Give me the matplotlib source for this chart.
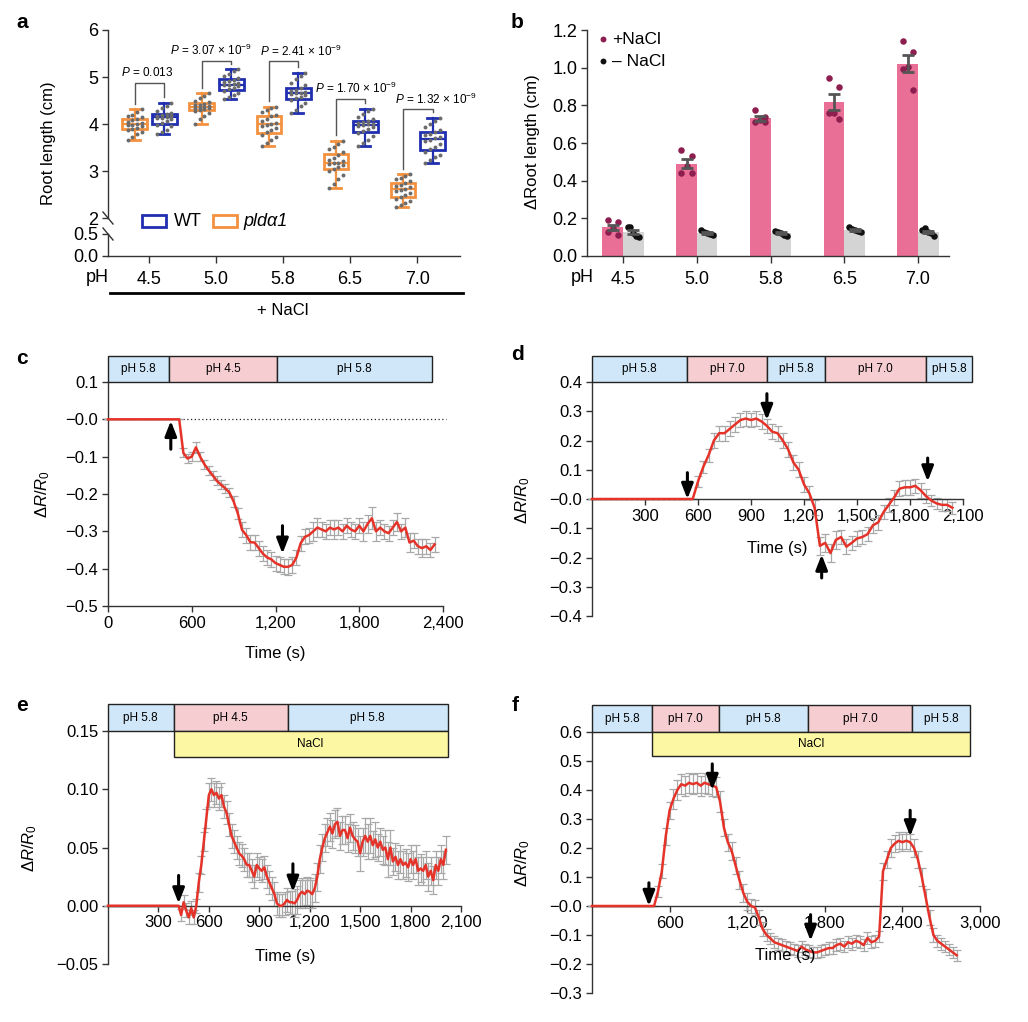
import numpy as np
import matplotlib
matplotlib.use('Agg')
import matplotlib.pyplot as plt
from matplotlib.patches import Rectangle
from matplotlib.lines import Line2D

plt.rcParams['font.family'] = ['Liberation Sans', 'DejaVu Sans']
plt.rcParams['mathtext.fontset'] = 'custom'
plt.rcParams['mathtext.rm'] = 'Liberation Sans'
plt.rcParams['mathtext.it'] = 'Liberation Sans:italic'
plt.rcParams['mathtext.bf'] = 'Liberation Sans:bold'

# ---------------- data ----------------
ph_labels = ['4.5', '5.0', '5.8', '6.5', '7.0']

# panel a: root length (cm) per seedling, pld-alpha1 and WT, + NaCl
pld_roots = [
    [3.65, 3.72, 3.78, 3.84, 3.87, 3.90, 3.92, 3.95, 3.97, 3.98, 4.00, 4.02, 4.05, 4.08, 4.10, 4.14, 4.16, 4.20, 4.25, 4.31],
    [4.00, 4.10, 4.18, 4.24, 4.28, 4.30, 4.32, 4.33, 4.34, 4.35, 4.36, 4.38, 4.40, 4.41, 4.43, 4.46, 4.50, 4.55, 4.60, 4.65],
    [3.54, 3.60, 3.66, 3.72, 3.77, 3.82, 3.87, 3.92, 3.96, 3.98, 4.00, 4.03, 4.07, 4.11, 4.16, 4.20, 4.25, 4.30, 4.34, 4.37],
    [2.63, 2.72, 2.82, 2.92, 3.01, 3.05, 3.09, 3.12, 3.15, 3.16, 3.18, 3.21, 3.24, 3.28, 3.34, 3.40, 3.46, 3.52, 3.58, 3.64],
    [2.24, 2.28, 2.32, 2.36, 2.40, 2.45, 2.50, 2.54, 2.58, 2.60, 2.62, 2.65, 2.68, 2.71, 2.74, 2.78, 2.82, 2.86, 2.90, 2.93],
]
wt_roots = [
    [3.78, 3.82, 3.88, 3.95, 3.98, 4.02, 4.06, 4.10, 4.12, 4.13, 4.15, 4.17, 4.18, 4.20, 4.21, 4.24, 4.28, 4.33, 4.38, 4.45],
    [4.53, 4.58, 4.62, 4.66, 4.70, 4.74, 4.77, 4.80, 4.82, 4.83, 4.85, 4.87, 4.89, 4.91, 4.94, 4.98, 5.02, 5.07, 5.12, 5.16],
    [4.23, 4.30, 4.38, 4.45, 4.51, 4.55, 4.58, 4.61, 4.63, 4.65, 4.67, 4.69, 4.71, 4.73, 4.76, 4.82, 4.88, 4.95, 5.02, 5.09],
    [3.54, 3.60, 3.67, 3.74, 3.80, 3.85, 3.89, 3.93, 3.96, 3.98, 3.99, 4.01, 4.03, 4.04, 4.06, 4.10, 4.15, 4.21, 4.27, 4.32],
    [3.18, 3.24, 3.29, 3.35, 3.40, 3.46, 3.52, 3.58, 3.63, 3.67, 3.70, 3.73, 3.76, 3.79, 3.82, 3.88, 3.94, 4.00, 4.07, 4.13],
]
p_labels = ['$P$ = 0.013', '$P$ = 3.07 × 10$^{-9}$', '$P$ = 2.41 × 10$^{-9}$',
            '$P$ = 1.70 × 10$^{-9}$', '$P$ = 1.32 × 10$^{-9}$']
bracket_y = [4.88, 5.34, 5.33, 4.53, 4.31]
p_text_dx = [-0.03, -0.07, 0.27, 0.09, 0.28]

# panel b: delta root length (cm)
plus_nacl = [
    [0.19, 0.18, 0.15, 0.13, 0.11],
    [0.565, 0.53, 0.48, 0.44, 0.44],
    [0.775, 0.74, 0.72, 0.71, 0.71],
    [0.943, 0.895, 0.757, 0.76, 0.727],
    [1.143, 1.085, 1.005, 0.993, 0.88],
]
minus_nacl = [
    [0.155, 0.155, 0.12, 0.105, 0.10],
    [0.14, 0.13, 0.12, 0.115, 0.113],
    [0.135, 0.127, 0.12, 0.113, 0.107],
    [0.152, 0.145, 0.14, 0.133, 0.128],
    [0.138, 0.148, 0.127, 0.12, 0.106],
]

# panel c
c_time = np.arange(0, 2341, 30)
c_val = [0.0] * 18 + [
    -0.09, -0.105, -0.1, -0.075, -0.1, -0.12, -0.136, -0.15, -0.165, -0.175,
    -0.185, -0.196, -0.22, -0.252, -0.296, -0.31, -0.329, -0.33, -0.345, -0.36,
    -0.37, -0.375, -0.385, -0.39, -0.395, -0.395, -0.39, -0.37, -0.332, -0.315,
    -0.31, -0.3, -0.29, -0.295, -0.3, -0.29, -0.295, -0.29, -0.3, -0.285,
    -0.295, -0.3, -0.285, -0.3, -0.28, -0.265, -0.3, -0.29, -0.3, -0.305,
    -0.29, -0.275, -0.3, -0.29, -0.33, -0.325, -0.34, -0.345, -0.34, -0.35,
    -0.335]
c_err = [0.0] * 18 + [
    0.012, 0.012, 0.012, 0.015, 0.012, 0.012, 0.012, 0.012, 0.012, 0.012,
    0.012, 0.012, 0.015, 0.015, 0.02, 0.02, 0.02, 0.02, 0.02, 0.02,
    0.02, 0.02, 0.02, 0.02, 0.02, 0.022, 0.022, 0.02, 0.02, 0.02,
    0.02, 0.025, 0.025, 0.02, 0.02, 0.02, 0.025, 0.02, 0.02, 0.02,
    0.02, 0.02, 0.02, 0.025, 0.025, 0.03, 0.025, 0.02, 0.02, 0.02,
    0.02, 0.025, 0.02, 0.025, 0.025, 0.02, 0.02, 0.025, 0.02, 0.02,
    0.02]

# panel d
d_time = np.arange(0, 2041, 30)
d_val = [0.0] * 20 + [
    0.06, 0.11, 0.15, 0.2, 0.225, 0.225, 0.24, 0.255, 0.27, 0.275,
    0.27, 0.275, 0.265, 0.25, 0.23, 0.225, 0.2, 0.17, 0.125, 0.1,
    0.05, 0.02, -0.03, -0.16, -0.15, -0.185, -0.14, -0.13, -0.163, -0.15,
    -0.135, -0.13, -0.12, -0.09, -0.08, -0.045, -0.02, 0.005, 0.035, 0.04,
    0.04, 0.045, 0.03, 0.01, -0.005, -0.015, -0.02, -0.02, -0.03]
d_err = [0.0] * 20 + [
    0.02, 0.02, 0.022, 0.025, 0.025, 0.025, 0.025, 0.025, 0.025, 0.025,
    0.025, 0.025, 0.025, 0.025, 0.025, 0.025, 0.025, 0.025, 0.025, 0.025,
    0.025, 0.025, 0.025, 0.03, 0.03, 0.03, 0.03, 0.025, 0.025, 0.025,
    0.025, 0.025, 0.025, 0.025, 0.025, 0.025, 0.025, 0.025, 0.025, 0.025,
    0.025, 0.025, 0.025, 0.025, 0.02, 0.02, 0.02, 0.02, 0.02]

# panel e
e_time = np.arange(0, 2011, 15)
e_val = [0.0] * 28 + [
    0.0, -0.008, 0.003, -0.004, -0.01, -0.002, -0.01, 0.0, 0.02, 0.035,
    0.055, 0.075, 0.095, 0.1, 0.095, 0.097, 0.092, 0.095, 0.085, 0.08,
    0.07, 0.06, 0.055, 0.05, 0.045, 0.043, 0.04, 0.035, 0.035, 0.03,
    0.025, 0.035, 0.032, 0.03, 0.033, 0.025, 0.02, 0.015, 0.01, 0.002,
    0.0, 0.0, 0.002, 0.005, 0.003, 0.003, 0.002, 0.005, 0.01, 0.012,
    0.01, 0.013, 0.012, 0.01, 0.015, 0.025, 0.04, 0.05, 0.058, 0.063,
    0.068, 0.062, 0.07, 0.072, 0.06, 0.065, 0.065, 0.058, 0.067, 0.06,
    0.057, 0.055, 0.045, 0.055, 0.06, 0.055, 0.06, 0.052, 0.057, 0.05,
    0.055, 0.048, 0.05, 0.04, 0.05, 0.038, 0.042, 0.035, 0.04, 0.035,
    0.037, 0.033, 0.04, 0.035, 0.04, 0.03, 0.032, 0.03, 0.035, 0.025,
    0.03, 0.022, 0.035, 0.03, 0.04, 0.035, 0.048]
e_err = [0.0] * 28 + [
    0.0, 0.005, 0.006, 0.006, 0.006, 0.006, 0.006, 0.006, 0.008, 0.008,
    0.008, 0.008, 0.01, 0.01, 0.01, 0.01, 0.01, 0.01, 0.01, 0.01,
    0.01, 0.01, 0.01, 0.01, 0.01, 0.01, 0.01, 0.01, 0.01, 0.01,
    0.01, 0.01, 0.01, 0.01, 0.01, 0.01, 0.01, 0.01, 0.01, 0.01,
    0.01, 0.01, 0.01, 0.01, 0.01, 0.01, 0.012, 0.012, 0.012, 0.012,
    0.012, 0.012, 0.012, 0.012, 0.012, 0.012, 0.012, 0.012, 0.012, 0.012,
    0.012, 0.012, 0.012, 0.012, 0.012, 0.012, 0.012, 0.012, 0.012, 0.012,
    0.012, 0.012, 0.015, 0.012, 0.015, 0.015, 0.015, 0.012, 0.015, 0.012,
    0.012, 0.012, 0.015, 0.015, 0.015, 0.012, 0.012, 0.012, 0.012, 0.012,
    0.012, 0.012, 0.012, 0.012, 0.012, 0.012, 0.012, 0.012, 0.012, 0.012,
    0.012, 0.012, 0.012, 0.012, 0.012, 0.012, 0.012]

# panel f
f_time = np.arange(0, 2821, 30)
f_val = [0.0] * 17 + [
    0.05, 0.12, 0.24, 0.33, 0.37, 0.4, 0.42, 0.415, 0.425, 0.42,
    0.425, 0.415, 0.425, 0.42, 0.415, 0.41, 0.36, 0.27, 0.22, 0.19,
    0.14, 0.09, 0.045, 0.015, 0.0, -0.005, -0.04, -0.08, -0.1, -0.112,
    -0.125, -0.13, -0.135, -0.14, -0.145, -0.15, -0.155, -0.14, -0.15, -0.155,
    -0.16, -0.16, -0.155, -0.15, -0.145, -0.145, -0.135, -0.13, -0.14, -0.125,
    -0.13, -0.12, -0.125, -0.135, -0.11, -0.125, -0.12, -0.105, 0.12, 0.16,
    0.2, 0.215, 0.225, 0.22, 0.225, 0.22, 0.2, 0.16, 0.1, 0.03,
    -0.04, -0.1, -0.12, -0.13, -0.14, -0.15, -0.16, -0.17]
f_err = [0.0] * 17 + [
    0.02, 0.025, 0.03, 0.03, 0.035, 0.035, 0.035, 0.035, 0.035, 0.035,
    0.035, 0.035, 0.035, 0.035, 0.035, 0.035, 0.035, 0.03, 0.03, 0.03,
    0.03, 0.03, 0.03, 0.03, 0.025, 0.025, 0.025, 0.025, 0.02, 0.02,
    0.02, 0.02, 0.02, 0.02, 0.02, 0.02, 0.02, 0.02, 0.02, 0.02,
    0.02, 0.02, 0.02, 0.02, 0.02, 0.02, 0.02, 0.02, 0.02, 0.02,
    0.02, 0.02, 0.02, 0.02, 0.02, 0.02, 0.02, 0.02, 0.03, 0.03,
    0.03, 0.03, 0.03, 0.03, 0.03, 0.03, 0.03, 0.03, 0.03, 0.03,
    0.025, 0.025, 0.02, 0.02, 0.02, 0.02, 0.02, 0.02]

# treatment bars (start s, end s, label)
c_segments = [(0, 440, 'pH 5.8'), (440, 1210, 'pH 4.5'), (1210, 2320, 'pH 5.8')]
d_segments = [(0, 540, 'pH 5.8'), (540, 990, 'pH 7.0'), (990, 1320, 'pH 5.8'),
              (1320, 1890, 'pH 7.0'), (1890, 2150, 'pH 5.8')]
e_segments = [(0, 390, 'pH 5.8'), (390, 1070, 'pH 4.5'), (1070, 2020, 'pH 5.8')]
e_nacl = (390, 2020)
f_segments = [(0, 465, 'pH 5.8'), (465, 980, 'pH 7.0'), (980, 1670, 'pH 5.8'),
              (1670, 2475, 'pH 7.0'), (2475, 2920, 'pH 5.8')]
f_nacl = (465, 2920)

# arrows: (time, tail y, head y)
c_arrows = [(450, -0.08, -0.004), (1250, -0.285, -0.36)]
d_arrows = [(540, 0.09, 0.0), (990, 0.36, 0.27), (1300, -0.27, -0.19), (1900, 0.14, 0.06)]
e_arrows = [(420, 0.026, 0.002), (1100, 0.036, 0.012)]
f_arrows = [(440, 0.08, 0.0), (930, 0.49, 0.40), (1690, -0.03, -0.12), (2460, 0.33, 0.24)]

# ---------------- styling ----------------
BLUE = '#1f2fb0'
ORANGE = '#f3913f'
PINK = '#ea6f97'
PINKDOT = '#8c1f4f'
BARGREY = '#d4d4d4'
PH_BLUE = '#cfe7f8'
PH_PINK = '#f6cdd0'
NACL_Y = '#fbf7a2'
SPINE = '#333333'
TRACE = '#e5332a'
ERRC = '#a8a8a8'

W, H = 1028, 1022
fig = plt.figure(figsize=(W / 100, H / 100), dpi=100)


def ax_px(l, t, r, b):
    return fig.add_axes([l / W, 1 - b / H, (r - l) / W, (b - t) / H])


def ftext(x, y, s, **kw):
    kw.setdefault('ha', 'center')
    kw.setdefault('va', 'center')
    return fig.text(x / W, 1 - y / H, s, **kw)


def fline(x1, y1, x2, y2, **kw):
    fig.add_artist(Line2D([x1 / W, x2 / W], [1 - y1 / H, 1 - y2 / H], **kw))


def style(ax, fs=12):
    for s in ['top', 'right']:
        ax.spines[s].set_visible(False)
    for s in ['left', 'bottom']:
        ax.spines[s].set_color(SPINE)
        ax.spines[s].set_linewidth(1)
    ax.tick_params(labelsize=fs, length=4, width=1, color=SPINE, pad=3)


def ph_bar(ax, segs, y0, h, fs=8.5):
    for s, e, lab in segs:
        col = PH_PINK if lab in ('pH 4.5', 'pH 7.0') else PH_BLUE
        ax.add_patch(Rectangle((s, y0), e - s, h, facecolor=col, edgecolor='#222',
                               lw=1, clip_on=False, zorder=5))
        ax.text((s + e) / 2, y0 + h / 2, lab, ha='center', va='center',
                fontsize=fs, clip_on=False, zorder=6)


def nacl_bar(ax, span, y0, h):
    s, e = span
    ax.add_patch(Rectangle((s, y0), e - s, h, facecolor=NACL_Y, edgecolor='#222',
                           lw=1, clip_on=False, zorder=5))
    ax.text((s + e) / 2, y0 + h / 2, 'NaCl', ha='center', va='center',
            fontsize=8.5, zorder=6)


def trace(ax, t, v, e):
    ax.errorbar(t, v, yerr=e, fmt='none', ecolor=ERRC, elinewidth=0.9,
                capsize=3, capthick=0.9, zorder=2, clip_on=False)
    ax.plot(t, v, color=TRACE, lw=1.8, zorder=3, clip_on=False)


def arrows(ax, arr):
    for x, yt, yh in arr:
        ax.annotate('', xy=(x, yh), xytext=(x, yt),
                    arrowprops=dict(arrowstyle='-|>,head_width=0.35,head_length=0.9',
                                    color='black', lw=2.2, shrinkA=0, shrinkB=0),
                    zorder=7)


def commas(vals):
    return [f'{v:,}' for v in vals]


# ---------------- panel a ----------------
axT = ax_px(108, 30, 460, 226)
axB = ax_px(108, 226, 460, 256)
for ax in (axT, axB):
    style(ax, 13)
    ax.set_xlim(-0.61, 4.64)
axT.set_ylim(1.83, 6)
axT.set_yticks([2, 3, 4, 5, 6])
axT.spines['bottom'].set_visible(False)
axT.spines['left'].set_bounds(2, 6)
axT.tick_params(axis='x', bottom=False, labelbottom=False)
axB.set_ylim(0, 0.68)
axB.set_yticks([0, 0.5])
axB.set_yticklabels(['0.0', '0.5'])
axB.spines['left'].set_bounds(0, 0.5)
xs = np.arange(len(ph_labels))
axB.set_xticks(xs)
axB.set_xticklabels(ph_labels)
axB.tick_params(axis='x', length=5, pad=6)
axB.patch.set_alpha(0)
axT.patch.set_alpha(0)

off_pld, off_wt = -0.21, 0.23
cols4 = np.array([-0.105, -0.035, 0.035, 0.105])
for data, off, col in ((pld_roots, off_pld, ORANGE), (wt_roots, off_wt, BLUE)):
    axT.boxplot(data, positions=xs + off, widths=0.37, whis=(0, 100), showfliers=False,
                patch_artist=True, manage_ticks=False, capwidths=0.15,
                boxprops=dict(facecolor='white', edgecolor=col, lw=2),
                whiskerprops=dict(color=col, lw=1.6),
                capprops=dict(color=col, lw=2),
                medianprops=dict(color=col, lw=1.6), zorder=2)
    for j, vals in enumerate(data):
        v = np.sort(vals)
        xo = cols4[np.arange(len(v)) % 4]
        axT.scatter(j + off + xo, v, s=8, color='#6b6b6b', lw=0, zorder=3)

for j in range(len(ph_labels)):
    yl = max(pld_roots[j]) + 0.12
    yr = max(wt_roots[j]) + 0.12
    yb = bracket_y[j]
    axT.plot([j + off_pld, j + off_pld, j + off_wt, j + off_wt], [yl, yb, yb, yr],
             color='#555555', lw=1, zorder=2)
    axT.text(j + p_text_dx[j], yb + 0.22, p_labels[j], ha='center', va='center',
             fontsize=8.5, clip_on=False)

# break marks
fline(103, 212, 113, 224, color=SPINE, lw=1)
fline(103, 228, 113, 240, color=SPINE, lw=1)

# legend a
fig.add_artist(Rectangle((142 / W, 1 - 227 / H), 24 / W, 12 / H, fill=False,
                         edgecolor=BLUE, lw=2, transform=fig.transFigure))
ftext(174, 221, 'WT', ha='left', fontsize=13)
fig.add_artist(Rectangle((213 / W, 1 - 227 / H), 24 / W, 12 / H, fill=False,
                         edgecolor=ORANGE, lw=2, transform=fig.transFigure))
ftext(243, 221, 'pldα1', ha='left', fontsize=13, style='italic')

ftext(48, 143, 'Root length (cm)', rotation=90, fontsize=12)
ftext(97, 277, 'pH', fontsize=13)
fline(110, 293, 463, 293, color='black', lw=2)
ftext(283, 310, '+ NaCl', fontsize=12)
ftext(22, 23, 'a', fontsize=15, weight='bold')

# ---------------- panel b ----------------
axb = ax_px(587, 30, 949, 256)
style(axb, 13)
axb.set_xlim(-0.49, 4.42)
axb.set_ylim(0, 1.2)
axb.set_yticks([0, 0.2, 0.4, 0.6, 0.8, 1.0, 1.2])
axb.set_yticklabels(['0.0', '0.2', '0.4', '0.6', '0.8', '1.0', '1.2'])
axb.set_xticks(xs)
axb.set_xticklabels(ph_labels)
axb.tick_params(axis='x', length=5, pad=6)
bw = 0.28
plus_mean = [np.mean(v) for v in plus_nacl]
minus_mean = [np.mean(v) for v in minus_nacl]
plus_sem = [np.std(v, ddof=1) / np.sqrt(len(v)) for v in plus_nacl]
minus_sem = [np.std(v, ddof=1) / np.sqrt(len(v)) for v in minus_nacl]
axb.bar(xs - bw / 2, plus_mean, width=bw, color=PINK, zorder=1)
axb.bar(xs + bw / 2, minus_mean, width=bw, color=BARGREY, zorder=1)
dot_off = np.array([-0.07, 0.07, 0.0, -0.07, 0.07])
dot_off_m = np.array([-0.08, -0.04, 0.0, 0.04, 0.08])
for j in range(len(ph_labels)):
    axb.scatter(j - bw / 2 + dot_off[:len(plus_nacl[j])], plus_nacl[j], s=22,
                color=PINKDOT, lw=0, zorder=3)
    axb.scatter(j + bw / 2 + dot_off_m[:len(minus_nacl[j])], minus_nacl[j], s=22,
                color='#111111', lw=0, zorder=3)
axb.errorbar(xs - bw / 2, plus_mean, yerr=plus_sem, fmt='none', ecolor='#555555',
             elinewidth=2, capsize=4, capthick=2, zorder=4)
axb.errorbar(xs + bw / 2, minus_mean, yerr=minus_sem, fmt='none', ecolor='#555555',
             elinewidth=2, capsize=4, capthick=2, zorder=4)
axb.scatter([603 / W], [1 - 39 / H], s=18, color=PINKDOT, transform=fig.transFigure, lw=0)
axb.scatter([603 / W], [1 - 61 / H], s=18, color='#111111', transform=fig.transFigure, lw=0)
ftext(612, 39, '+NaCl', ha='left', fontsize=12.5)
ftext(612, 61, '– NaCl', ha='left', fontsize=12.5)
ftext(533, 142, 'ΔRoot length (cm)', rotation=90, fontsize=12)
ftext(582, 277, 'pH', fontsize=13)
ftext(517, 23, 'b', fontsize=15, weight='bold')

# ---------------- panel c ----------------
axc = ax_px(108, 382, 443, 606)
style(axc)
axc.set_xlim(0, 2400)
axc.set_ylim(-0.5, 0.1)
axc.set_yticks([-0.5, -0.4, -0.3, -0.2, -0.1, 0.0, 0.1])
axc.set_yticklabels(['−0.5', '−0.4', '−0.3', '−0.2', '−0.1', '−0.0', '0.1'])
cx = [0, 600, 1200, 1800, 2400]
axc.set_xticks(cx)
axc.set_xticklabels(commas(cx))
axc.plot([0, 2420], [0, 0], ls=(0, (1, 2)), color='#222222', lw=0.9, zorder=1, clip_on=False)
trace(axc, c_time, c_val, c_err)
arrows(axc, c_arrows)
ph_bar(axc, c_segments, 0.1, 0.07)
ftext(43, 494, r'$\Delta R/R_0$', rotation=90, fontsize=12)
ftext(275, 653, 'Time (s)', fontsize=12)
ftext(22, 358, 'c', fontsize=15, weight='bold')

# ---------------- panel d ----------------
axd = ax_px(592, 382, 963, 616)
style(axd)
axd.set_xlim(0, 2100)
axd.set_ylim(-0.4, 0.4)
axd.spines['bottom'].set_position(('data', 0))
axd.set_yticks([-0.4, -0.3, -0.2, -0.1, 0.0, 0.1, 0.2, 0.3, 0.4])
axd.set_yticklabels(['−0.4', '−0.3', '−0.2', '−0.1', '−0.0', '0.1', '0.2', '0.3', '0.4'])
dx = [300, 600, 900, 1200, 1500, 1800, 2100]
axd.set_xticks(dx)
axd.set_xticklabels(commas(dx))
trace(axd, d_time, d_val, d_err)
arrows(axd, d_arrows)
ph_bar(axd, d_segments, 0.4, 0.089)
ftext(523, 500, r'$\Delta R/R_0$', rotation=90, fontsize=12)
ftext(777, 548, 'Time (s)', fontsize=12)
ftext(517, 355, 'd', fontsize=15, weight='bold')

# ---------------- panel e ----------------
axe = ax_px(108, 731, 461, 964)
style(axe)
axe.set_xlim(0, 2100)
axe.set_ylim(-0.05, 0.15)
axe.spines['bottom'].set_position(('data', 0))
axe.set_yticks([-0.05, 0.0, 0.05, 0.10, 0.15])
axe.set_yticklabels(['−0.05', '0.00', '0.05', '0.10', '0.15'])
axe.set_xticks(dx)
axe.set_xticklabels(commas(dx))
trace(axe, e_time, e_val, e_err)
arrows(axe, e_arrows)
ph_bar(axe, e_segments, 0.15, 0.023)
nacl_bar(axe, e_nacl, 0.128, 0.022)
ftext(30, 848, r'$\Delta R/R_0$', rotation=90, fontsize=12)
ftext(285, 956, 'Time (s)', fontsize=12)
ftext(22, 705, 'e', fontsize=15, weight='bold')

# ---------------- panel f ----------------
axf = ax_px(592, 732, 980, 993)
style(axf)
axf.set_xlim(0, 3000)
axf.set_ylim(-0.3, 0.6)
axf.spines['bottom'].set_position(('data', 0))
axf.set_yticks([-0.3, -0.2, -0.1, 0.0, 0.1, 0.2, 0.3, 0.4, 0.5, 0.6])
axf.set_yticklabels(['−0.3', '−0.2', '−0.1', '−0.0', '0.1', '0.2', '0.3', '0.4', '0.5', '0.6'])
fx = [600, 1200, 1800, 2400, 3000]
axf.set_xticks(fx)
axf.set_xticklabels(commas(fx))
trace(axf, f_time, f_val, f_err)
arrows(axf, f_arrows)
ph_bar(axf, f_segments, 0.6, 0.093)
nacl_bar(axf, f_nacl, 0.516, 0.084)
ftext(523, 863, r'$\Delta R/R_0$', rotation=90, fontsize=12)
ftext(785, 955, 'Time (s)', fontsize=12)
ftext(515, 705, 'f', fontsize=15, weight='bold')

fig.savefig('out.png', dpi=100)
